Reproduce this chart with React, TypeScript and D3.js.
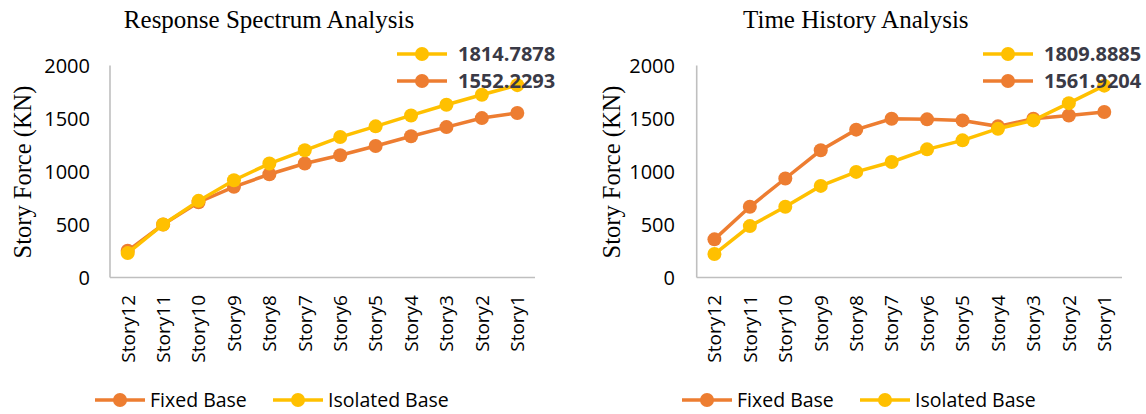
import React from "react";
import * as d3 from "d3";

const categories = ["Story12", "Story11", "Story10", "Story9", "Story8", "Story7", "Story6", "Story5", "Story4", "Story3", "Story2", "Story1"];
const rsaFixed = [252, 500, 710, 855, 974, 1075, 1153, 1241, 1332, 1419, 1504, 1552.2293];
const rsaIsolated = [230, 500, 723, 918, 1075, 1200, 1325, 1426, 1529, 1630, 1724, 1814.7878];
const thaFixed = [360, 667, 934, 1200, 1395, 1498, 1492, 1482, 1426, 1498, 1529, 1561.9204];
const thaIsolated = [221, 485, 667, 864, 996, 1090, 1209, 1294, 1404, 1482, 1645, 1809.8885];
const yTicks = [0, 500, 1000, 1500, 2000];
const titles = ["Response Spectrum Analysis", "Time History Analysis"];
const maxLabels = [["1814.7878", "1552.2293"], ["1809.8885", "1561.9204"]];

const ORANGE = "#ED7D31";
const GOLD = "#FFC000";
const SANS = "'Open Sans', sans-serif";
const SERIF = "'Liberation Serif', 'Times New Roman', serif";

type PanelProps = {
  x0: number; x1: number; title: string; fixed: number[]; isolated: number[];
  labels: string[]; yTitleX: number; tickRight: number; legendTopX: number; legendBottomX: number;
};

function Panel({ x0, x1, title, fixed, isolated, labels, yTitleX, tickRight, legendTopX, legendBottomX }: PanelProps) {
  const x = d3.scalePoint<string>().domain(categories).range([x0, x1]).padding(0.5);
  const y = d3.scaleLinear().domain([0, 2000]).range([277.5, 65.5]);
  const line = d3.line<number>().x((_, i) => x(categories[i]) as number).y((d) => y(d));
  const series = [
    { data: fixed, color: ORANGE },
    { data: isolated, color: GOLD },
  ];
  return (
    <g>
      <text x={(x0 + x1) / 2 - 53.5} y={28} textAnchor="middle" fontFamily={SERIF} fontSize={25} fill="#000">{title}</text>
      <text transform={`translate(${yTitleX},${172}) rotate(-90)`} textAnchor="middle" fontFamily={SERIF} fontSize={24.5} fill="#000">Story Force (KN)</text>
      {yTicks.map((t) => (
        <text key={t} x={tickRight} y={y(t)} dy="0.36em" textAnchor="end" fontFamily={SANS} fontSize={20} fill="#000">{t}</text>
      ))}
      <line x1={x0} x2={x0} y1={y(2000)} y2={y(0)} stroke="#BFBFBF" strokeWidth={1.6} />
      <line x1={x0} x2={x1} y1={y(0)} y2={y(0)} stroke="#BFBFBF" strokeWidth={1.6} />
      {categories.map((c) => (
        <text key={c} transform={`translate(${x(c)},${295}) rotate(-90)`} dy="0.36em" textAnchor="end" fontFamily={SANS} fontSize={19} fill="#000">{c}</text>
      ))}
      {series.map((s, k) => (
        <g key={k}>
          <path d={line(s.data) || ""} fill="none" stroke={s.color} strokeWidth={3.5} />
          {s.data.map((v, i) => (
            <circle key={i} cx={x(categories[i])} cy={y(v)} r={7} fill={s.color} />
          ))}
        </g>
      ))}
      {[GOLD, ORANGE].map((col, k) => (
        <g key={k}>
          <line x1={legendTopX} x2={legendTopX + 50} y1={54 + k * 27} y2={54 + k * 27} stroke={col} strokeWidth={3.5} />
          <circle cx={legendTopX + 25} cy={54 + k * 27} r={7} fill={col} />
          <text x={legendTopX + 61} y={54 + k * 27} dy="0.36em" fontFamily={SANS} fontWeight="bold" fontSize={20} fill="#3A3A46">{labels[k]}</text>
        </g>
      ))}
      {[{ name: "Fixed Base", col: ORANGE, off: 0 }, { name: "Isolated Base", col: GOLD, off: 178 }].map((l) => (
        <g key={l.name}>
          <line x1={legendBottomX + l.off} x2={legendBottomX + l.off + 50} y1={400} y2={400} stroke={l.col} strokeWidth={3.5} />
          <circle cx={legendBottomX + l.off + 25} cy={400} r={7} fill={l.col} />
          <text x={legendBottomX + l.off + 55} y={400} dy="0.36em" fontFamily={SANS} fontSize={19.5} fill="#000">{l.name}</text>
        </g>
      ))}
    </g>
  );
}

export default function App() {
  return (
    <svg width={1146} height={414} style={{ position: "absolute", left: 0, top: 0, background: "#fff" }}>
      <rect width={1146} height={414} fill="#fff" />
      <Panel x0={110} x1={535} title={titles[0]} fixed={rsaFixed} isolated={rsaIsolated} labels={maxLabels[0]}
        yTitleX={31} tickRight={90} legendTopX={397} legendBottomX={95} />
      <Panel x0={696.7} x1={1122} title={titles[1]} fixed={thaFixed} isolated={thaIsolated} labels={maxLabels[1]}
        yTitleX={620} tickRight={675} legendTopX={983} legendBottomX={682} />
    </svg>
  );
}
